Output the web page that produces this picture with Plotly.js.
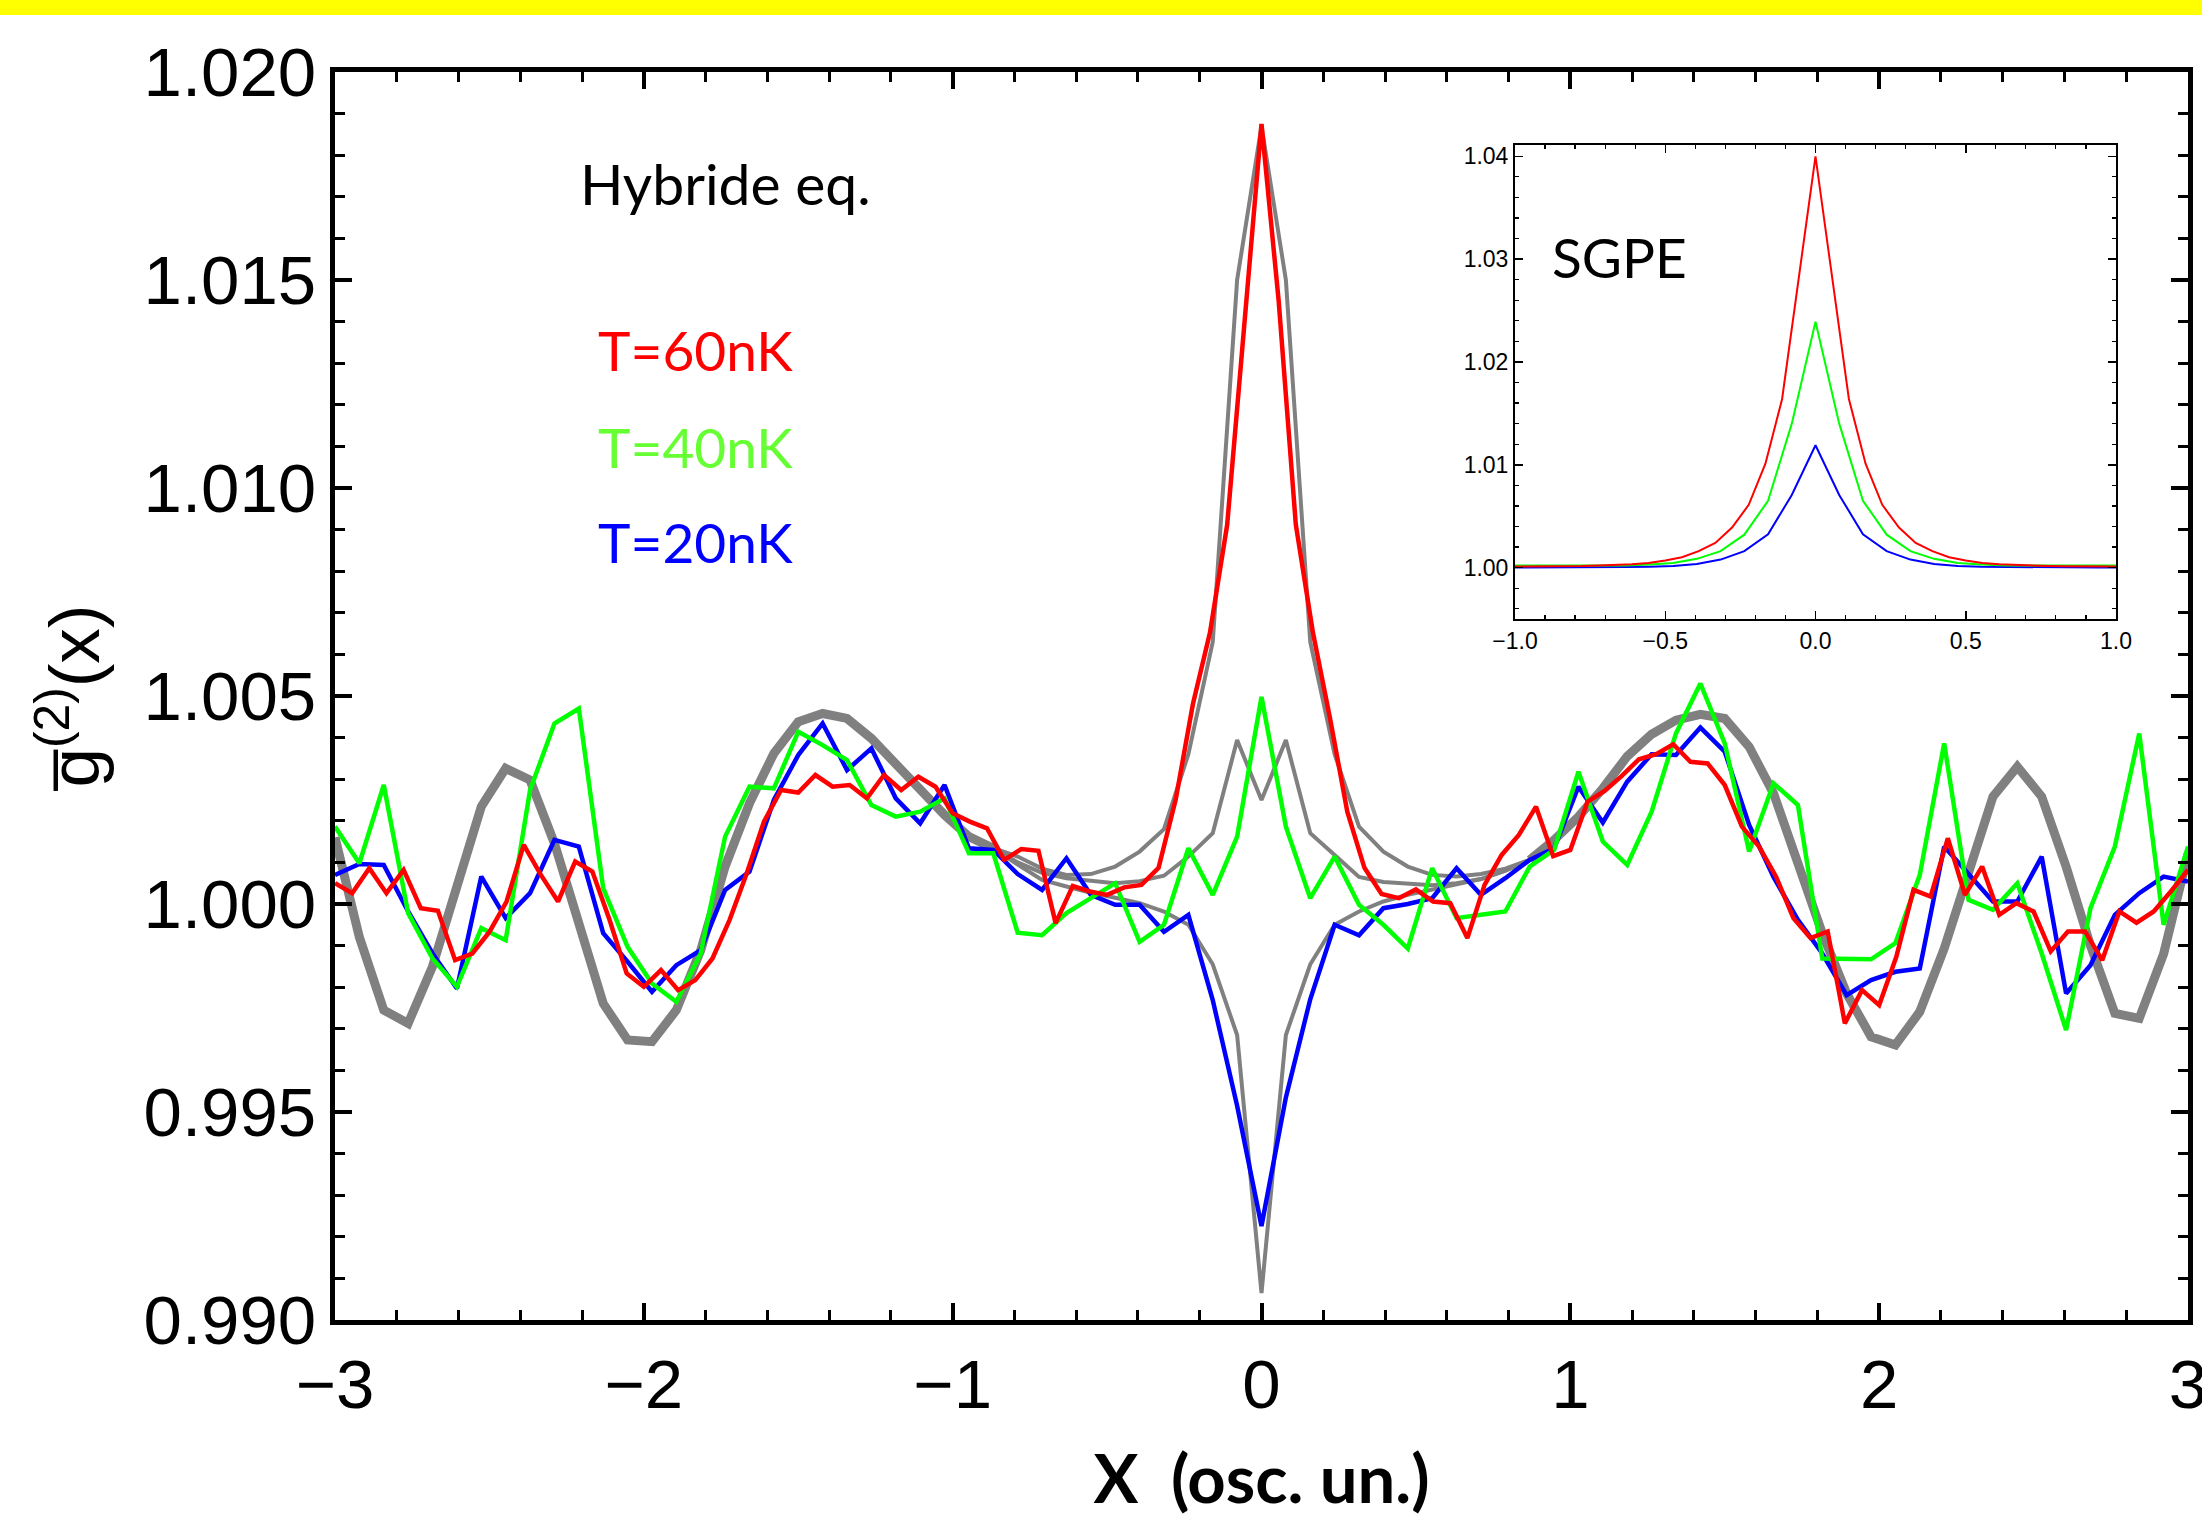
<!DOCTYPE html>
<html>
<head>
<meta charset="utf-8">
<script src="https://cdn.plot.ly/plotly-3.0.1.min.js"></script>
<style>
  html, body { margin: 0; padding: 0; background: #ffffff; }
  #chart { width: 2202px; height: 1521px; }
</style>
</head>
<body>
<div id="chart"></div>
<script>
// ---------------- DATA ----------------
// sampling grids (x in oscillator units)
const X_MIN = -3, X_MAX = 3;
const N_COARSE = 77;   // grid used by T=40nK, T=20nK and grey reference curves
const N_FINE = 109;    // grid used by T=60nK
const xCoarse = Array.from({length: N_COARSE}, (_, k) => X_MIN + k * (X_MAX - X_MIN) / (N_COARSE - 1));
const xFine = Array.from({length: N_FINE}, (_, j) => X_MIN + j * (X_MAX - X_MIN) / (N_FINE - 1));

// T = 60 nK (red), fine grid
const g2_T60 = [
  1.00050, 1.00026, 1.00086, 1.00026, 1.00082, 0.99990, 0.99984, 0.99865, 0.99881, 0.99933,
  1.00006, 1.00142, 1.00070, 1.00006, 1.00102, 1.00078, 0.99962, 0.99833, 0.99801, 0.99841,
  0.99793, 0.99817, 0.99869, 0.99962, 1.00074, 1.00198, 1.00274, 1.00268, 1.00310, 1.00282,
  1.00286, 1.00254, 1.00310, 1.00274, 1.00306, 1.00282, 1.00218, 1.00198, 1.00182, 1.00106,
  1.00132, 1.00128, 0.99954, 1.00043, 1.00030, 1.00022, 1.00040, 1.00046, 1.00087, 1.00251,
  1.00480, 1.00653, 1.00912, 1.01400, 1.01875, 1.01450, 1.00912, 1.00652, 1.00445, 1.00222,
  1.00087, 1.00024, 1.00014, 1.00035, 1.00006, 1.00002, 0.99918, 1.00046, 1.00118, 1.00166,
  1.00234, 1.00115, 1.00130, 1.00246, 1.00272, 1.00308, 1.00348, 1.00360, 1.00384, 1.00342,
  1.00338, 1.00286, 1.00186, 1.00138, 1.00065, 0.99966, 0.99918, 0.99934, 0.99713, 0.99793,
  0.99757, 0.99873, 1.00034, 1.00018, 1.00158, 1.00022, 1.00090, 0.99974, 1.00002, 0.99982,
  0.99886, 0.99934, 0.99934, 0.99865, 0.99982, 0.99955, 0.99982, 1.00030, 1.00082
];

// T = 40 nK (green), coarse grid
const g2_T40 = [
  1.00186, 1.00098, 1.00286, 0.99978, 0.99869, 0.99801, 0.99942, 0.99913, 1.00274, 1.00434,
  1.00470, 1.00038, 0.99897, 0.99809, 0.99765, 0.99881, 1.00162, 1.00282, 1.00278, 1.00414,
  1.00382, 1.00346, 1.00238, 1.00210, 1.00222, 1.00254, 1.00122, 1.00122, 0.99931, 0.99925,
  0.99978, 1.00014, 1.00050, 0.99909, 0.99950, 1.00134, 1.00022, 1.00162, 1.00498, 1.00186,
  1.00014, 1.00114, 0.99998, 0.99950, 0.99893, 1.00086, 0.99966, 0.99974, 0.99982, 1.00090,
  1.00130, 1.00318, 1.00150, 1.00094, 1.00222, 1.00410, 1.00530, 1.00386, 1.00126, 1.00290,
  1.00238, 0.99869, 0.99869, 0.99867, 0.99906, 1.00070, 1.00386, 1.00010, 0.99986, 1.00050,
  0.99881, 0.99697, 0.99990, 1.00138, 1.00410, 0.99950, 1.00138
];

// T = 20 nK (blue), coarse grid
const g2_T20 = [
  1.00070, 1.00096, 1.00094, 0.99982, 0.99881, 0.99797, 1.00066, 0.99966, 1.00026, 1.00154,
  1.00138, 0.99930, 0.99861, 0.99789, 0.99853, 0.99889, 1.00034, 1.00078, 1.00250, 1.00358,
  1.00434, 1.00322, 1.00374, 1.00254, 1.00194, 1.00286, 1.00134, 1.00130, 1.00072, 1.00034,
  1.00110, 1.00022, 0.99998, 0.99998, 0.99933, 0.99974, 0.99769, 0.99515, 0.99226, 0.99535,
  0.99771, 0.99950, 0.99925, 0.99990, 1.00000, 1.00014, 1.00086, 1.00022, 1.00062, 1.00106,
  1.00134, 1.00282, 1.00196, 1.00294, 1.00360, 1.00358, 1.00424, 1.00366, 1.00190, 1.00065,
  0.99962, 0.99881, 0.99781, 0.99817, 0.99837, 0.99845, 1.00138, 1.00074, 1.00006, 1.00006,
  1.00114, 0.99785, 0.99853, 0.99974, 1.00026, 1.00066, 1.00054
];

// grey reference (common outer oscillation), coarse grid; null where the three
// central reference curves separate
const g2_refOuter = [
  1.00160, 0.99920, 0.99745, 0.99713, 0.99850, 1.00040, 1.00234, 1.00326, 1.00298, 1.00146,
  0.99950, 0.99761, 0.99673, 0.99669, 0.99745, 0.99889, 1.00090, 1.00242, 1.00362, 1.00438,
  1.00458, 1.00446, 1.00398, 1.00334, 1.00270, 1.00214, 1.00162, 1.00134, null, null,
  null, null, null, null, null, null, null, null, null, null,
  null, null, null, null, null, null, null, null, null, 1.00106,
  1.00154, 1.00210, 1.00278, 1.00355, 1.00408, 1.00442, 1.00456, 1.00446, 1.00378, 1.00266,
  1.00090, 0.99930, 0.99785, 0.99681, 0.99661, 0.99741, 0.99893, 1.00078, 1.00258, 1.00330,
  1.00258, 1.00090, 0.99900, 0.99737, 0.99725, 0.99880, 1.00120
];

// grey reference curves in the central region (coarse grid indices 26..50)
const refCentralStart = 26;
const g2_ref60 = [
  1.00162, 1.00134, 1.00114, 1.00085, 1.00070, 1.00072, 1.00090, 1.00126, 1.00180, 1.00360,
  1.00630, 1.01500, 1.01870, 1.01500, 1.00630, 1.00360, 1.00186, 1.00126, 1.00090, 1.00070,
  1.00066, 1.00072, 1.00085, 1.00106, 1.00154
];
const g2_ref40 = [
  1.00162, 1.00134, 1.00100, 1.00075, 1.00062, 1.00055, 1.00050, 1.00055, 1.00068, 1.00114,
  1.00170, 1.00394, 1.00250, 1.00394, 1.00170, 1.00118, 1.00065, 1.00053, 1.00048, 1.00045,
  1.00050, 1.00060, 1.00080, 1.00106, 1.00154
];
const g2_ref20 = [
  1.00162, 1.00134, 1.00095, 1.00058, 1.00042, 1.00027, 1.00015, 1.00002, 0.99982, 0.99950,
  0.99855, 0.99685, 0.99065, 0.99685, 0.99855, 0.99950, 0.99982, 1.00006, 1.00022, 1.00034,
  1.00048, 1.00060, 1.00080, 1.00106, 1.00154
];

// inset (SGPE): red on fine grid indices 36..72, green/blue on coarse grid indices 25..51
const insetFineStart = 36;
const sgpe_T60 = [
  1.00010, 1.00010, 1.00010, 1.00012, 1.00015, 1.00020, 1.00025, 1.00032, 1.00045, 1.00068,
  1.00100, 1.00160, 1.00240, 1.00390, 1.00610, 1.01010, 1.01640, 1.02820, 1.04000, 1.02820,
  1.01640, 1.01010, 1.00610, 1.00390, 1.00240, 1.00160, 1.00100, 1.00068, 1.00045, 1.00032,
  1.00025, 1.00020, 1.00015, 1.00012, 1.00010, 1.00010, 1.00010
];
const insetCoarseStart = 25;
const sgpe_T40 = [
  1.00020, 1.00020, 1.00020, 1.00020, 1.00020, 1.00020, 1.00030, 1.00045, 1.00085, 1.00160,
  1.00320, 1.00650, 1.01400, 1.02390, 1.01400, 1.00650, 1.00320, 1.00160, 1.00085, 1.00045,
  1.00030, 1.00020, 1.00020, 1.00020, 1.00020, 1.00020, 1.00020
];
const sgpe_T20 = [
  1.00000, 1.00000, 1.00000, 1.00000, 1.00002, 1.00005, 1.00008, 1.00015, 1.00034, 1.00078,
  1.00160, 1.00324, 1.00706, 1.01190, 1.00706, 1.00324, 1.00160, 1.00078, 1.00034, 1.00015,
  1.00008, 1.00005, 1.00002, 1.00000, 1.00000, 1.00000, 1.00000
];

const mainXTicks = [-3, -2, -1, 0, 1, 2, 3];
const mainYTicks = [0.990, 0.995, 1.000, 1.005, 1.010, 1.015, 1.020];
const insetXTicks = [-1.0, -0.5, 0.0, 0.5, 1.0];
const insetYTicks = [1.00, 1.01, 1.02, 1.03, 1.04];

const labels = {
  method: 'Hybride eq.',
  inset: 'SGPE',
  t60: 'T=60nK',
  t40: 'T=40nK',
  t20: 'T=20nK',
  xTitle: 'X\u00a0\u00a0(osc. un.)',
  yTitle: 'g\u0305<sup>(2)</sup>(x)'
};

// ---------------- STYLE ----------------
const RED = '#ff0000', GREEN = '#00ff00', BLUE = '#0000ff', GREY = '#808080';
const TEXT_GREEN = '#66ff33';
const tickFont = {family: 'Liberation Sans, Arial, sans-serif', size: 69, color: '#000'};
const insetTickFont = {family: 'Liberation Sans Narrow, Arial Narrow, Liberation Sans, sans-serif', size: 23, color: '#000'};
const labelFont = 'Lato, Open Sans, sans-serif';

const xc = (start, n) => xCoarse.slice(start, start + n);
const xf = (start, n) => xFine.slice(start, start + n);

const traces = [
  {x: xCoarse, y: g2_refOuter, mode: 'lines', line: {color: GREY, width: 9}, connectgaps: false, hoverinfo: 'skip', showlegend: false},
  {x: xc(refCentralStart, g2_ref60.length), y: g2_ref60, mode: 'lines', line: {color: GREY, width: 4}, showlegend: false},
  {x: xc(refCentralStart, g2_ref40.length), y: g2_ref40, mode: 'lines', line: {color: GREY, width: 4}, showlegend: false},
  {x: xc(refCentralStart, g2_ref20.length), y: g2_ref20, mode: 'lines', line: {color: GREY, width: 4}, showlegend: false},
  {x: xCoarse, y: g2_T20, mode: 'lines', line: {color: BLUE, width: 4.5}, name: 'T=20nK', showlegend: false},
  {x: xCoarse, y: g2_T40, mode: 'lines', line: {color: GREEN, width: 4.5}, name: 'T=40nK', showlegend: false},
  {x: xFine, y: g2_T60, mode: 'lines', line: {color: RED, width: 4.5}, name: 'T=60nK', showlegend: false},
  // inset
  {x: xc(insetCoarseStart, sgpe_T20.length), y: sgpe_T20, xaxis: 'x2', yaxis: 'y2', mode: 'lines', line: {color: BLUE, width: 2}, showlegend: false},
  {x: xc(insetCoarseStart, sgpe_T40.length), y: sgpe_T40, xaxis: 'x2', yaxis: 'y2', mode: 'lines', line: {color: GREEN, width: 2}, showlegend: false},
  {x: xf(insetFineStart, sgpe_T60.length), y: sgpe_T60, xaxis: 'x2', yaxis: 'y2', mode: 'lines', line: {color: RED, width: 2}, showlegend: false}
];

const W = 2202, H = 1521;
const M = {l: 335, r: 14, t: 72, b: 201};
const PW = W - M.l - M.r, PH = H - M.t - M.b;
const px2x = (px) => (px - M.l) / PW;
const py2y = (py) => (H - M.b - py) / PH;

const mainAxisCommon = {
  showgrid: false, zeroline: false, showline: true, linecolor: '#000', linewidth: 5,
  mirror: 'allticks', ticks: 'inside', ticklen: 17, tickwidth: 4, tickcolor: '#000',
  tickfont: tickFont, ticklabeloverflow: 'allow'
};
const insetAxisCommon = {
  showgrid: false, zeroline: false, showline: true, linecolor: '#000', linewidth: 2,
  mirror: 'allticks', ticks: 'inside', ticklen: 8, tickwidth: 1.5, tickcolor: '#000',
  tickfont: insetTickFont, ticklabeloverflow: 'allow'
};

const layout = {
  width: W, height: H,
  margin: M,
  paper_bgcolor: '#fff', plot_bgcolor: '#fff',
  showlegend: false,
  xaxis: Object.assign({}, mainAxisCommon, {
    range: [X_MIN, X_MAX], tickmode: 'array', tickvals: mainXTicks, ticktext: mainXTicks.map(v => v < 0 ? '\u2212' + Math.abs(v) : String(v)),
    minor: {tick0: -3, dtick: 0.2, ticks: 'inside', ticklen: 10, tickwidth: 3, tickcolor: '#000'},
    title: {text: '<b>' + labels.xTitle + '</b>', font: {family: labelFont, size: 67, color: '#000'}, standoff: 36},
    domain: [0, 1], anchor: 'y'
  }),
  yaxis: Object.assign({}, mainAxisCommon, {
    range: [0.990, 1.020], tickmode: 'array', tickvals: mainYTicks, ticktext: mainYTicks.map(v => v.toFixed(3)),
    minor: {tick0: 0.99, dtick: 0.001, ticks: 'inside', ticklen: 10, tickwidth: 3, tickcolor: '#000'},
    title: {text: labels.yTitle, font: {family: 'Liberation Sans, Arial, sans-serif', size: 71, color: '#000'}, standoff: 22},
    domain: [0, 1], anchor: 'x'
  }),
  xaxis2: Object.assign({}, insetAxisCommon, {
    domain: [px2x(1515), px2x(2116)], anchor: 'y2',
    range: [-1, 1], tickmode: 'array', tickvals: insetXTicks, ticktext: insetXTicks.map(v => (v < 0 ? '\u2212' : '') + Math.abs(v).toFixed(1)),
    minor: {tick0: -1, dtick: 0.1, ticks: 'inside', ticklen: 4, tickwidth: 1.2, tickcolor: '#000'}
  }),
  yaxis2: Object.assign({}, insetAxisCommon, {
    domain: [py2y(619), py2y(145)], anchor: 'x2',
    range: [0.995, 1.0411], tickmode: 'array', tickvals: insetYTicks, ticktext: insetYTicks.map(v => v.toFixed(2)),
    minor: {tick0: 0.994, dtick: 0.002, ticks: 'inside', ticklen: 4, tickwidth: 1.2, tickcolor: '#000'}
  }),
  shapes: [
    {type: 'rect', xref: 'paper', yref: 'paper', x0: px2x(0), x1: px2x(W), y0: py2y(15), y1: py2y(0), fillcolor: '#ffff00', line: {width: 0}, layer: 'above'}
  ],
  annotations: [
    {xref: 'paper', yref: 'paper', x: px2x(578), y: py2y(183), xanchor: 'left', yanchor: 'middle', showarrow: false, text: labels.method, font: {family: labelFont, size: 57, color: '#000'}},
    {xref: 'paper', yref: 'paper', x: px2x(596), y: py2y(350), xanchor: 'left', yanchor: 'middle', showarrow: false, text: labels.t60, font: {family: labelFont, size: 55, color: RED}},
    {xref: 'paper', yref: 'paper', x: px2x(596), y: py2y(447), xanchor: 'left', yanchor: 'middle', showarrow: false, text: labels.t40, font: {family: labelFont, size: 55, color: TEXT_GREEN}},
    {xref: 'paper', yref: 'paper', x: px2x(596), y: py2y(542), xanchor: 'left', yanchor: 'middle', showarrow: false, text: labels.t20, font: {family: labelFont, size: 55, color: BLUE}},
    {xref: 'paper', yref: 'paper', x: px2x(1550), y: py2y(257), xanchor: 'left', yanchor: 'middle', showarrow: false, text: labels.inset, font: {family: labelFont, size: 55, color: '#000'}}
  ]
};

Plotly.newPlot('chart', traces, layout, {displayModeBar: false, staticPlot: true});
</script>
</body>
</html>
